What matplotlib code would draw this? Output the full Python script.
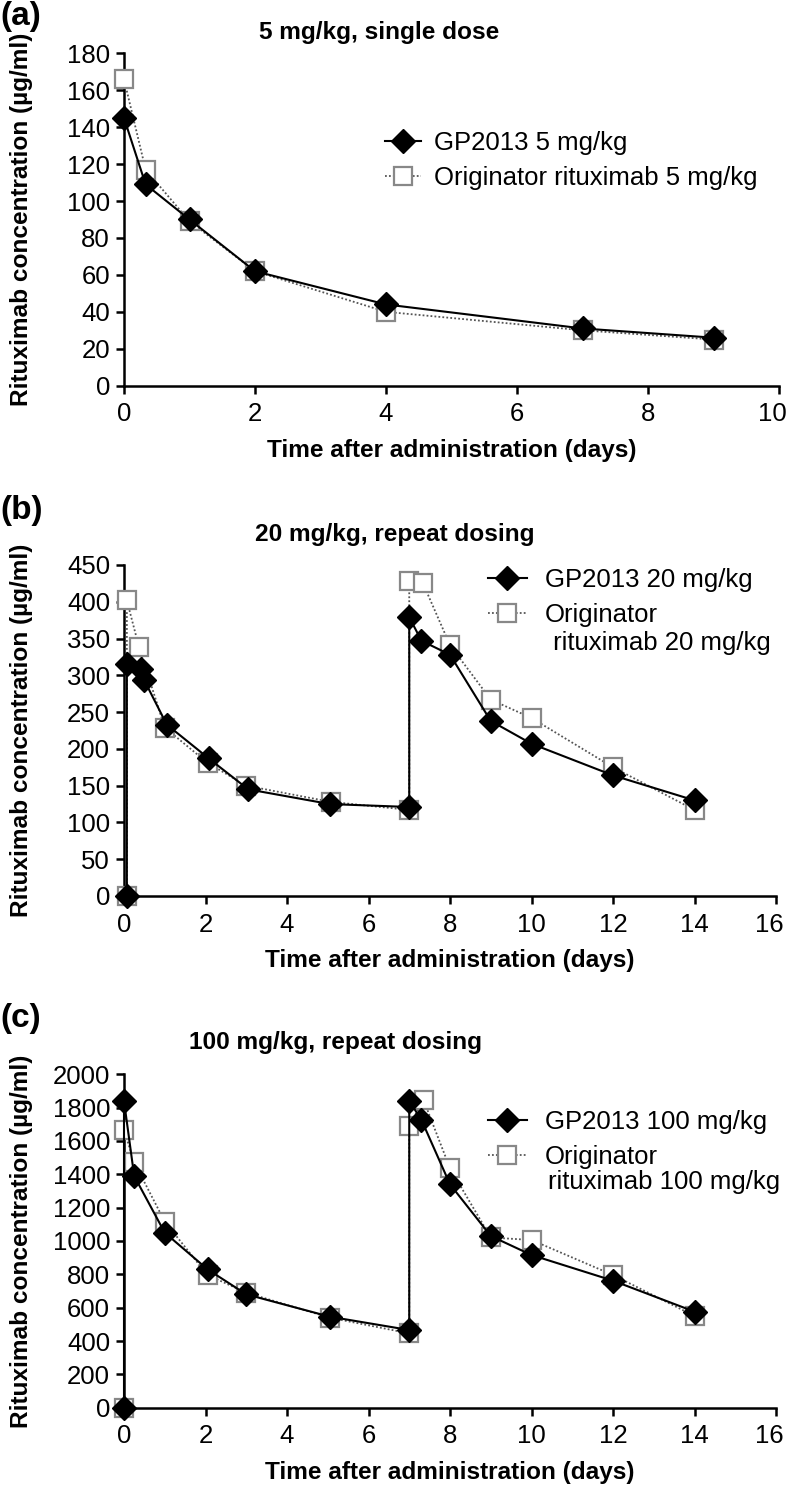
import matplotlib
matplotlib.use("Agg")
import matplotlib.pyplot as plt
import matplotlib.transforms as mtransforms

plt.rcParams['font.family'] = ['Liberation Sans', 'DejaVu Sans']

# ---------------- data ----------------
a_gp_t = [0, 0.33, 1, 2, 4, 7, 9]
a_gp_c = [145, 109, 90, 62, 44, 31, 26]
a_or_t = [0, 0.33, 1, 2, 4, 7, 9]
a_or_c = [166, 117, 89, 62, 40, 30, 25]

b_gp_t = [0.07, 0.07, 0.42, 0.5, 1.05, 2.08, 3.05, 5.05, 7.0, 7.0, 7.3, 8.0, 9.0, 10.0, 12.0, 14.0]
b_gp_c = [0, 316, 308, 293, 233, 187, 145, 125, 121, 379, 347, 328, 238, 207, 164, 130]
b_or_t = [0.07, 0.07, 0.37, 1.0, 2.05, 3.0, 5.07, 7.0, 7.0, 7.33, 8.0, 9.0, 10.0, 12.0, 14.0]
b_or_c = [0, 402, 338, 229, 181, 150, 128, 117, 428, 426, 341, 267, 242, 175, 117]

c_gp_t = [0, 0, 0.25, 1.0, 2.05, 3.0, 5.05, 7.0, 7.0, 7.3, 8.0, 9.0, 10.0, 12.0, 14.0]
c_gp_c = [0, 1840, 1390, 1050, 830, 680, 546, 466, 1840, 1726, 1340, 1030, 916, 762, 576]
c_or_t = [0, 0, 0.25, 1.0, 2.05, 3.0, 5.05, 7.0, 7.0, 7.35, 8.0, 9.0, 10.0, 12.0, 14.0]
c_or_c = [0, 1666, 1472, 1116, 796, 690, 540, 446, 1692, 1846, 1436, 1021, 1006, 796, 550]

titles = ["5 mg/kg, single dose", "20 mg/kg, repeat dosing", "100 mg/kg, repeat dosing"]
panel_letters = ["(a)", "(b)", "(c)"]
gp_labels = ["GP2013 5 mg/kg", "GP2013 20 mg/kg", "GP2013 100 mg/kg"]
or_labels = ["Originator rituximab 5 mg/kg", "Originator", "Originator"]
or_labels_cont = [None, " rituximab 20 mg/kg", "rituximab 100 mg/kg"]
xlabel = "Time after administration (days)"
ylabel = "Rituximab concentration (\u00b5g/ml)"

xmax = [10, 16, 16]
ymax = [180, 450, 2000]
ystep = [20, 50, 200]

# ---------------- layout ----------------
W, H = 787, 1492
fig = plt.figure(figsize=(W / 100, H / 100), dpi=100)

def px_axes(l, r, t, b):
    return [l / W, 1 - b / H, (r - l) / W, (b - t) / H]

rects = [px_axes(124, 779, 53.3, 385.7),
         px_axes(124, 776, 565, 896),
         px_axes(124, 776, 1074.3, 1407.7)]
title_pos = [(259, 33), (255, 535), (189, 1042)]
letter_pos = [(0, 16), (0, 511), (0, 1018)]
legend_anchor = [(385, 131), (488, 568), (488, 1110)]
legend_hl = [1.4, 1.5, 1.5]
legend_pad = [0.5, 0.72, 0.72]
cont_pos = [None, (546, 643), (548, 1182)]

data = [(a_gp_t, a_gp_c, a_or_t, a_or_c),
        (b_gp_t, b_gp_c, b_or_t, b_or_c),
        (c_gp_t, c_gp_c, c_or_t, c_or_c)]

FS = 18.5
LFS = 17.6
for i in range(3):
    ax = fig.add_axes(rects[i])
    gt, gc, ot, oc = data[i]
    ax.plot(ot, oc, linestyle=(0, (1, 1.2)), color='#555555', lw=1.3,
            marker='s', ms=12.5, mfc='white', mec='#888888', mew=1.6,
            label=or_labels[i], clip_on=False, zorder=3)
    ax.plot(gt, gc, linestyle='-', color='black', lw=1.5,
            marker='D', ms=12, mfc='black', mec='black',
            label=gp_labels[i], clip_on=False, zorder=4)
    ax.set_xlim(0, xmax[i])
    ax.set_ylim(0, ymax[i])
    for s in ['top', 'right']:
        ax.spines[s].set_visible(False)
    for s in ['left', 'bottom']:
        ax.spines[s].set_linewidth(1.8)
    ax.tick_params(axis='both', direction='out', length=6, width=1.8,
                   labelsize=FS, colors='black')
    ax.tick_params(axis='x', pad=6)
    ax.tick_params(axis='y', pad=4)
    ax.set_xticks(range(0, xmax[i] + 1, 2))
    ax.set_yticks(range(0, ymax[i] + 1, ystep[i]))
    ax.set_xlabel(xlabel, fontsize=LFS, fontweight='bold', labelpad=9)
    ax.set_ylabel(ylabel, fontsize=LFS, fontweight='bold')
    ax.yaxis.set_label_coords(-0.139, 0.5)

    # keep the last x tick label inside the figure
    last = ax.xaxis.get_major_ticks()[-1].label1
    last.set_transform(last.get_transform() +
                       mtransforms.ScaledTranslation(-7 / 100, 0, fig.dpi_scale_trans))

    handles, labels = ax.get_legend_handles_labels()
    lx, ly = legend_anchor[i]
    ax.legend(handles[::-1], labels[::-1], loc='upper left',
              bbox_to_anchor=(lx / W, 1 - ly / H), bbox_transform=fig.transFigure,
              frameon=False, fontsize=FS, handlelength=legend_hl[i],
              handletextpad=legend_pad[i], labelspacing=0.42,
              borderpad=0, borderaxespad=0)
    if cont_pos[i] is not None:
        cx, cy = cont_pos[i]
        fig.text(cx / W, 1 - cy / H, or_labels_cont[i], fontsize=FS,
                 ha='left', va='center')

    tx, ty = title_pos[i]
    fig.text(tx / W, 1 - ty / H, titles[i], fontsize=LFS, fontweight='bold',
             ha='left', va='center')
    lx2, ly2 = letter_pos[i]
    fig.text(lx2 / W, 1 - ly2 / H, panel_letters[i], fontsize=24, fontweight='bold',
             ha='left', va='center')

fig.savefig("out.png", dpi=100)
